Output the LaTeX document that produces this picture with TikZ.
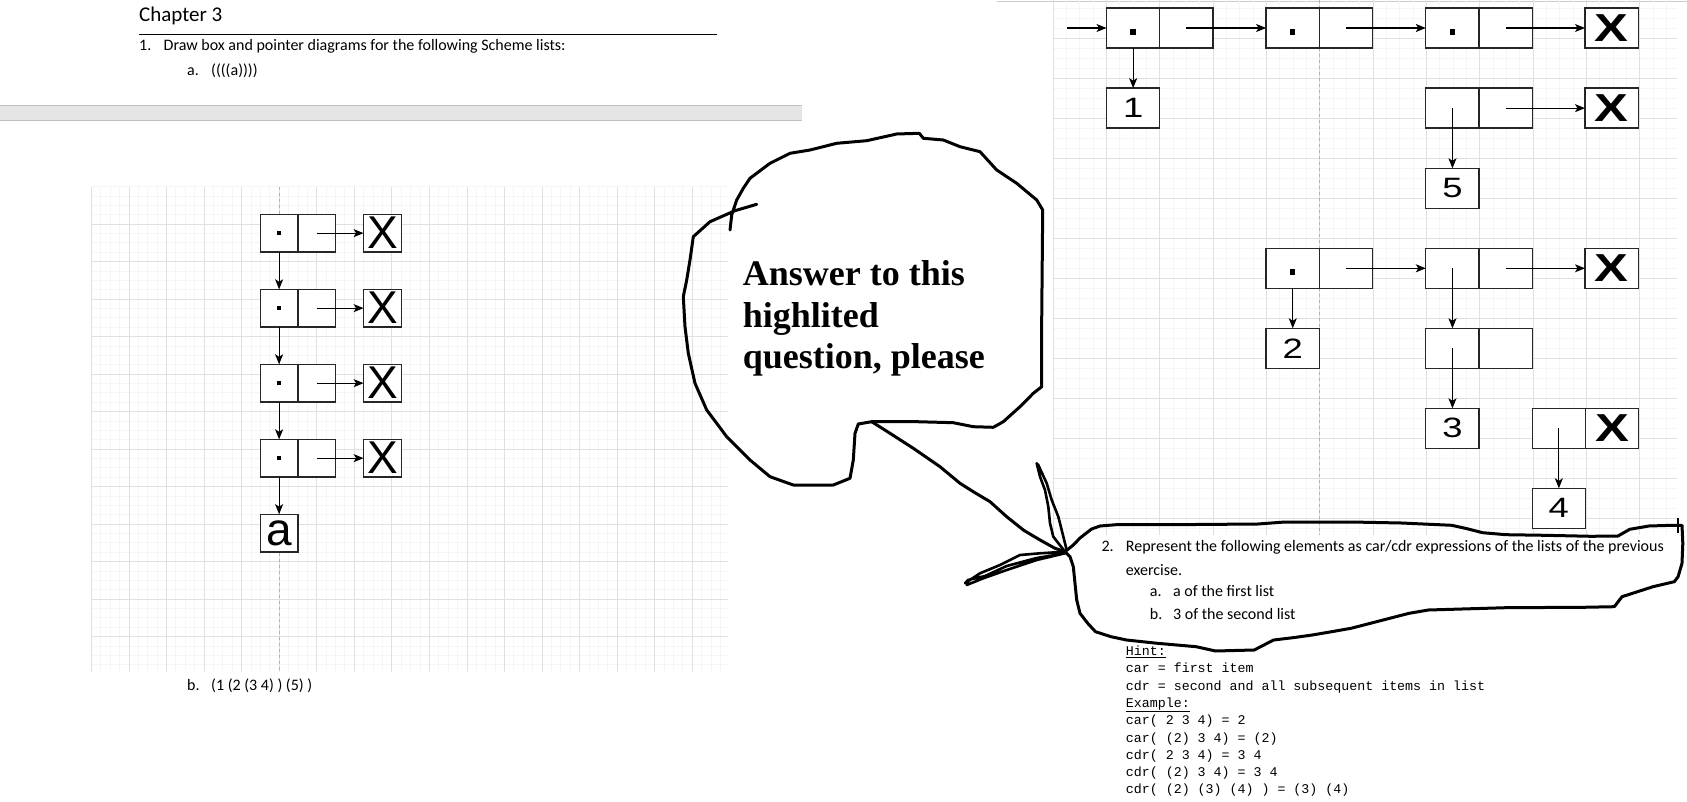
\documentclass[tikz,border=0pt]{standalone}
\usepackage{fontspec}
\usepackage{graphicx}
\setmainfont{Carlito}
\newfontfamily\arialfont{Liberation Sans}
\newfontfamily\timesfont{Liberation Serif}
\newfontfamily\courierfont{Liberation Mono}
\usetikzlibrary{positioning,arrows.meta}
\newcommand{\stretchx}[1]{\scalebox{1.3}[1]{#1}}
\tikzset{
  minorline/.style={draw=black!4, line width=1pt},
  majorline/.style={draw=black!12, line width=1pt},
  guide/.style={draw=black!30, dashed, line width=0.8pt},
  box/.style={draw=black!85, line width=1.3pt, fill=white, inner sep=0pt, outer sep=0pt},
  leftbox/.style={box, minimum width=37.6pt, minimum height=37.7pt, font=\arialfont\fontsize{46}{46}\selectfont},
  rightbox/.style={box, minimum width=53.3pt, minimum height=40pt, font=\arialfont\fontsize{28}{28}\selectfont},
  nilbox/.style={rightbox, font=\arialfont\bfseries\fontsize{39}{39}\selectfont},
  ptr/.style={-{Stealth[length=10pt,width=8pt,inset=2.5pt]}, line width=1.2pt},
  scribble/.style={line width=3pt, line join=round, line cap=round},
  question/.style={anchor=base west, inner sep=0pt, font=\fontsize{16}{19}\selectfont},
  hint/.style={anchor=base west, inner sep=0pt, font=\courierfont\fontsize{13.3}{16}\selectfont},
}
\begin{document}
\begin{tikzpicture}[x=1pt, y=-1pt]
  \useasboundingbox (0,0) rectangle (1687,802);
  \fill[white] (0,0) rectangle (1687,802);

  % page header
  \node[anchor=base west, inner sep=0pt, font=\fontsize{21}{25}\selectfont] (chapter) at (139,22) {Chapter 3};
  \draw[line width=0.9pt] (139,34) -- (717,34);
  \node[question] (q1num) at (139,50.7) {1.};
  \node[question] (q1text) at (163.5,50.7) {Draw box and pointer diagrams for the following Scheme lists:};
  \node[question] (q1anum) at (187,76) {a.};
  \node[question] (q1atext) at (211,76) {((((a))))};
  \fill[black!10] (0,105) rectangle (802,120.7);
  \draw[black!25] (0,105) -- (802,105) (0,120.7) -- (802,120.7);
  \draw[black!20] (997,1) -- (1687,1);

  % left grid
  \foreach \i in {0,...,67}
    \draw[minorline] ({91.5+9.3875*\i},186.7) -- ({91.5+9.3875*\i},671.7);
  \foreach \j in {0,...,51}
    \draw[minorline] (91.5,{186.7+9.375*\j}) -- (728,{186.7+9.375*\j});
  \foreach \i in {0,4,...,64}
    \draw[majorline] ({91.5+9.3875*\i},186.7) -- ({91.5+9.3875*\i},671.7);
  \foreach \j in {4,8,...,48}
    \draw[majorline] (91.5,{186.7+9.375*\j}) -- (728,{186.7+9.375*\j});
  \draw[guide] (279.1,186.7) -- (279.1,671.7);

  % right grid
  \foreach \i in {0,...,46}
    \draw[minorline] ({1053.3+13.33*\i},0) -- ({1053.3+13.33*\i},535);
  \foreach \j in {1,...,53}
    \draw[minorline] (1053.3,{-1.7+10*\j}) -- (1676.7,{-1.7+10*\j});
  \foreach \i in {0,4,...,44}
    \draw[majorline] ({1053.3+13.33*\i},0) -- ({1053.3+13.33*\i},535);
  \foreach \j in {4,8,...,52}
    \draw[majorline] (1053.3,{-1.7+10*\j}) -- (1676.7,{-1.7+10*\j});
  \draw[guide] (1319.3,0) -- (1319.3,535);

  % (((a)))
  \foreach \r/\y in {1/233.15,2/308.15,3/383.15,4/458.15} {
    \node[leftbox] (car\r) at (279.1,\y) {};
    \node[leftbox, right=0pt of car\r] (cdr\r) {};
    \node[leftbox, minimum width=37.7pt] (nil\r) at (382.45,\y) {X};
    \fill (car\r.center) +(-2.3,-2.3) rectangle +(2.3,2.3);
    \draw[ptr] (cdr\r.center) -- (nil\r.west);
  }
  \node[leftbox] (atom) at (279.1,533) {a};
  \foreach \r/\s in {1/2,2/3,3/4}
    \draw[ptr] (car\r.south) -- (car\s.north);
  \draw[ptr] (car4.south) -- (atom.north);
  \node[question] (q1bnum) at (187,690) {b.};
  \node[question] (q1btext) at (211,690) {(1 (2 (3 4) ) (5) )};

  % (1 (2 (3 4)) (5))
  \coordinate (start) at (1067,28);
  \node[rightbox] (p1car) at (1133.15,28) {};
  \node[rightbox, right=0pt of p1car] (p1cdr) {};
  \node[rightbox] (p2car) at (1292.75,28) {};
  \node[rightbox, right=0pt of p2car] (p2cdr) {};
  \node[rightbox] (p3car) at (1452.45,28) {};
  \node[rightbox, right=0pt of p3car] (p3cdr) {};
  \node[nilbox] (p3nil) at (1611.65,28) {\stretchx{X}};
  \node[rightbox] (one) at (1133.15,108.15) {\stretchx{1}};
  \node[rightbox] (q1car) at (1452.45,108.15) {};
  \node[rightbox, right=0pt of q1car] (q1cdr) {};
  \node[nilbox] (q1nil) at (1611.65,108.15) {\stretchx{X}};
  \node[rightbox] (five) at (1452.45,188.3) {\stretchx{5}};
  \node[rightbox] (r1car) at (1292.75,268.3) {};
  \node[rightbox, right=0pt of r1car] (r1cdr) {};
  \node[rightbox] (r2car) at (1452.45,268.3) {};
  \node[rightbox, right=0pt of r2car] (r2cdr) {};
  \node[nilbox] (r2nil) at (1611.65,268.3) {\stretchx{X}};
  \node[rightbox] (two) at (1292.75,348.3) {\stretchx{2}};
  \node[rightbox] (r3car) at (1452.45,348.3) {};
  \node[rightbox, right=0pt of r3car] (r3cdr) {};
  \node[rightbox] (three) at (1452.45,428.3) {\stretchx{3}};
  \node[rightbox] (r4car) at (1558.85,428.3) {};
  \node[nilbox, right=0pt of r4car] (r4cdr) {\stretchx{X}};
  \node[rightbox] (four) at (1558.85,508.3) {\stretchx{4}};
  \foreach \c in {p1car,p2car,p3car,r1car}
    \fill (\c.center) +(-2.7,1.2) rectangle +(2.7,6.6);
  \draw[ptr] (start) -- (p1car.west);
  \draw[ptr] (p1cdr.center) -- (p2car.west);
  \draw[ptr] (p2cdr.center) -- (p3car.west);
  \draw[ptr] (p3cdr.center) -- (p3nil.west);
  \draw[ptr] (p1car.south) -- (one.north);
  \draw[ptr] (q1cdr.center) -- (q1nil.west);
  \draw[ptr] (q1car.center) -- (five.north);
  \draw[ptr] (r1car.south) -- (two.north);
  \draw[ptr] (r1cdr.center) -- (r2car.west);
  \draw[ptr] (r2cdr.center) -- (r2nil.west);
  \draw[ptr] (r2car.center) -- (r3car.north);
  \draw[ptr] (r3car.center) -- (three.north);
  \draw[ptr] (r4car.center) -- (four.north);

  % question 2 and hint
  \node[question] (q2num) at (1101.3,551.5) {2.};
  \node[question] (q2text) at (1125.7,551.5) {Represent the following elements as car/cdr expressions of the lists of the previous};
  \node[question] (q2more) at (1125.7,575) {exercise.};
  \node[question] (q2anum) at (1149.7,596.5) {a.};
  \node[question] (q2atext) at (1172.9,596.5) {a of the first list};
  \node[question] (q2bnum) at (1149.7,619) {b.};
  \node[question] (q2btext) at (1172.9,619) {3 of the second list};
  \foreach \k/\txt in {0/\underline{Hint:}, 1/car = first item,
      2/cdr = second and all subsequent items in list, 3/\underline{Example:},
      4/car( 2 3 4) = 2, 5/car( (2) 3 4) = (2), 6/cdr( 2 3 4) = 3 4,
      7/cdr( (2) 3 4) = 3 4, 8/cdr( (2) (3) (4) ) = (3) (4)}
    \node[hint] (hint\k) at (1125.7,{655.5+17.3*\k}) {\txt};

  % speech bubble
  \draw[scribble] (756.7,204.3) -- (735,210.7) -- (710,221.7) -- (693.3,236.7) -- (690,260) -- (686.7,280)
    -- (683.3,296.7) -- (685,326.7) -- (688.3,353.3) -- (695,383.3) -- (706.7,410) -- (726.7,436.7)
    -- (750,460) -- (770,476.7) -- (793.3,485) -- (833.3,485) -- (850,478.3) -- (853.3,460)
    -- (855,433.3) -- (858.3,424) -- (871.7,421.7) -- (916.7,421.7) -- (953.3,422.7) -- (973.3,426.7)
    -- (993.3,427.3) -- (1003.3,421.7) -- (1020,406.7) -- (1033.3,393.3) -- (1041.7,386.7)
    -- (1041.7,320) -- (1042.7,210) -- (1036.7,200) -- (1016.7,183.3) -- (996.7,170) -- (980,151.7)
    -- (960,146.7) -- (943.3,140) -- (923.3,138.3) -- (919.3,133.3) -- (896.7,134) -- (866.7,140.7)
    -- (836.7,143.3) -- (810,150) -- (790,153.3) -- (770,163.3) -- (750,178.3) -- (743.3,188.3)
    -- (736.7,200) -- (731.7,215) -- (730,230);
  \node[anchor=base west, inner sep=0pt, align=left, font=\timesfont\bfseries\fontsize{36}{41.3}\selectfont]
    (plea) at (742.7,368.3) {Answer to this\\highlited\\question, please};
  \draw[scribble] (871.7,421.7) -- (890,433.3) -- (913.3,448.3) -- (940,466.7) -- (960,483.3)
    -- (973.3,491.7) -- (990,501.7) -- (1006.7,516.7) -- (1023.3,530) -- (1040,540) -- (1055,548.3)
    -- (1065,551.7);
  \draw[scribble, line width=2.6pt] (1065,551.7) -- (1053.3,536.7) -- (1050,523.3) -- (1048.3,506.7)
    -- (1045,490) -- (1040,476.7) -- (1036.7,463.3) -- (1038.3,465) -- (1046.7,483.3) -- (1051.7,500)
    -- (1058.3,516.7) -- (1061.7,530) -- (1066.7,550);
  \draw[scribble, line width=2.6pt] (1065,551.7) -- (1040,553.3) -- (1020,555) -- (1000,565) -- (980,573.3)
    -- (965,583.3) -- (968,580) -- (985,576) -- (1006.7,566) -- (1036.7,558) -- (1065,553.3)
    -- (1036.7,560) -- (1006.7,570) -- (983.3,578.3) -- (966.7,585);
  \draw[scribble] (1065,551.7) -- (1073.3,545) -- (1080,538) -- (1091.6,529) -- (1100,526)
    -- (1118.7,524.5) -- (1196,524.5) -- (1258,524) -- (1285,522) -- (1351,522) -- (1401.3,523)
    -- (1451.7,525.3) -- (1467,528.7) -- (1482.6,532.7) -- (1505.9,534.7) -- (1544.6,535.3)
    -- (1591,536.3) -- (1618,536) -- (1629.7,529.3) -- (1649,526) -- (1672.3,525.3) -- (1682,525.3)
    -- (1682.8,543.3) -- (1682,563.3) -- (1678.1,576.7) -- (1674.3,581.7) -- (1653,586.7)
    -- (1637.5,591.7) -- (1622,596.7) -- (1614.3,606.7) -- (1583.3,607.3) -- (1505.9,607.7)
    -- (1428.4,610) -- (1409.1,613.3) -- (1389.7,618.3) -- (1370.4,623.3) -- (1351,628.3)
    -- (1331.6,631.7) -- (1312.3,635) -- (1292.9,637.7) -- (1273.6,640) -- (1254.2,650)
    -- (1215.5,651) -- (1196.1,646.7) -- (1157.4,643.3) -- (1126.5,640) -- (1111,636.7)
    -- (1095.5,631.7) -- (1087.7,623.3) -- (1080,613.3) -- (1076.7,600) -- (1075,583.3)
    -- (1073.3,566.7) -- (1070,556.7) -- (1065,551.7);
  \draw[line width=1.2pt] (1678,518) -- (1678,533);
\end{tikzpicture}
\end{document}
